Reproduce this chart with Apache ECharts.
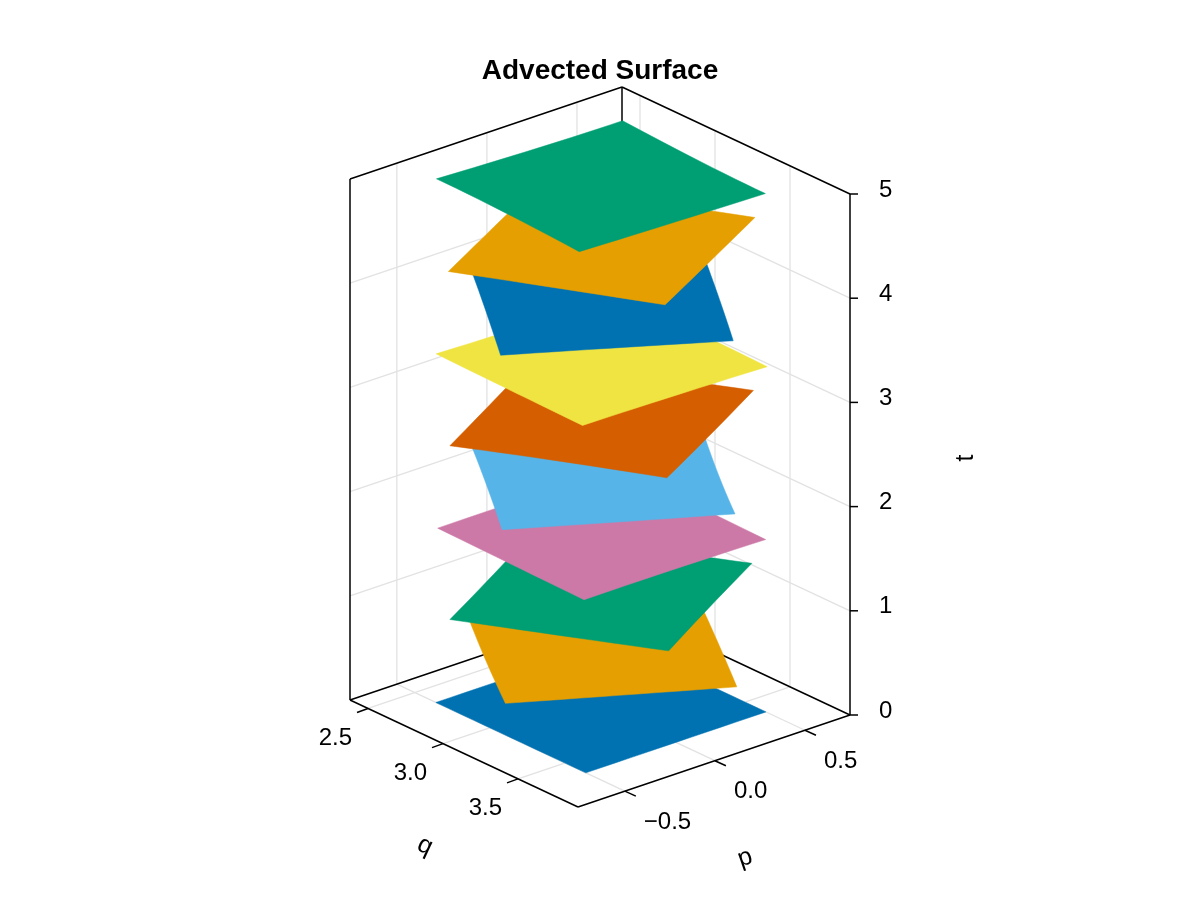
<!DOCTYPE html>
<html><head><meta charset="utf-8">
<script src="https://cdn.jsdelivr.net/npm/echarts@6/dist/echarts.min.js"></script>
<style>html,body{margin:0;padding:0;background:#fff}#c{width:1200px;height:900px}</style>
</head><body><div id="c"></div>
<script>
// Axis ranges and ticks
const qRange = [2.38, 3.90];
const pRange = [-0.76, 0.75];
const tRange = [0, 5];
const qTicks = [2.5, 3.0, 3.5];
const pTicks = [-0.5, 0.0, 0.5];
const tTicks = [0, 1, 2, 3, 4, 5];
const qTickLabels = ['2.5', '3.0', '3.5'];
const pTickLabels = ['\u22120.5', '0.0', '0.5'];
const tTickLabels = ['0', '1', '2', '3', '4', '5'];
// Surface times
const tValues = [0, 0.556, 1.111, 1.667, 2.222, 2.778, 3.333, 3.889, 4.444, 5];
const surfaceColors = ['#0072B2', '#E69F00', '#009E73', '#CC79A7', '#56B4E9', '#D55E00', '#F0E442', '#0072B2', '#E69F00', '#009E73'];
// Boundary of each advected patch: corner, edge-mid, corner, ... (q, p)
const surface0 = [[2.64,-0.50],[3.14,-0.50],[3.64,-0.50],[3.64,0.00],[3.64,0.50],[3.14,0.50],[2.64,0.50],[2.64,0.00]];
const surface1 = [[2.46,-0.18],[2.88,-0.43],[3.32,-0.68],[3.57,-0.26],[3.83,0.18],[3.40,0.43],[2.96,0.68],[2.71,0.26]];
const surface2 = [[2.46,0.19],[2.70,-0.23],[2.95,-0.68],[3.38,-0.44],[3.82,-0.19],[3.58,0.23],[3.33,0.68],[2.91,0.44]];
const surface3 = [[2.65,0.51],[2.64,0.03],[2.64,-0.49],[3.12,-0.50],[3.64,-0.51],[3.64,-0.03],[3.65,0.49],[3.17,0.50]];
const surface4 = [[2.97,0.69],[2.73,0.28],[2.46,-0.17],[2.86,-0.41],[3.31,-0.69],[3.56,-0.28],[3.83,0.17],[3.42,0.41]];
const surface5 = [[3.34,0.68],[2.93,0.45],[2.46,0.20],[2.69,-0.21],[2.95,-0.68],[3.35,-0.45],[3.82,-0.20],[3.60,0.21]];
const surface6 = [[3.66,0.49],[3.20,0.50],[2.66,0.51],[2.65,0.05],[2.63,-0.49],[3.09,-0.50],[3.63,-0.51],[3.64,-0.05]];
const surface7 = [[3.83,0.16],[3.45,0.40],[2.98,0.69],[2.74,0.30],[2.45,-0.16],[2.84,-0.40],[3.30,-0.69],[3.54,-0.30]];
const surface8 = [[3.82,-0.21],[3.61,0.19],[3.35,0.68],[2.96,0.47],[2.47,0.21],[2.68,-0.19],[2.94,-0.68],[3.33,-0.47]];
const surface9 = [[3.62,-0.52],[3.64,-0.08],[3.66,0.48],[3.22,0.49],[2.66,0.52],[2.65,0.08],[2.62,-0.48],[3.06,-0.49]];
const surfaces = [surface0,surface1,surface2,surface3,surface4,surface5,surface6,surface7,surface8,surface9];

// Projection of (q,p,t) into the page plane
function proj(q, p, t) {
  const a = (q - qRange[0]) / (qRange[1] - qRange[0]);
  const b = (p - pRange[0]) / (pRange[1] - pRange[0]);
  const c = (t - tRange[0]) / (tRange[1] - tRange[0]);
  return [350 + 228 * a + 272 * b, 700 + 107 * a - 92 * b - 521 * c];
}
const FONT = '"Liberation Sans", Arial, sans-serif';

function frameItem(params, api) {
  const ch = [];
  const P = (q, p, t) => api.coord(proj(q, p, t));
  const line = (A, B, color, w) => ch.push({type: 'line', shape: {x1: A[0], y1: A[1], x2: B[0], y2: B[1]}, style: {stroke: color, lineWidth: w}});
  const [q0, q1] = qRange, [p0, p1] = pRange, [t0, t1] = tRange;
  const G = '#e2e2e2';
  tTicks.forEach(t => { if (t > t0 && t < t1) { line(P(q0,p0,t), P(q0,p1,t), G, 1.3); line(P(q0,p1,t), P(q1,p1,t), G, 1.3); } });
  pTicks.forEach(p => { line(P(q0,p,t0), P(q0,p,t1), G, 1.3); line(P(q0,p,t0), P(q1,p,t0), G, 1.3); });
  qTicks.forEach(q => { line(P(q,p1,t0), P(q,p1,t1), G, 1.3); line(P(q,p0,t0), P(q,p1,t0), G, 1.3); });
  const K = '#000';
  line(P(q0,p0,t0), P(q0,p1,t0), K, 1.5);
  line(P(q0,p1,t0), P(q1,p1,t0), K, 1.5);
  line(P(q0,p1,t0), P(q0,p1,t1), K, 1.5);
  return {type: 'group', children: ch};
}
function frontItem(params, api) {
  const ch = [];
  const P = (q, p, t) => api.coord(proj(q, p, t));
  const line = (A, B, color, w) => ch.push({type: 'line', shape: {x1: A[0], y1: A[1], x2: B[0], y2: B[1]}, style: {stroke: color, lineWidth: w}});
  const text = (s, pt, align, valign, size, rot) => ch.push({type: 'text', x: pt[0], y: pt[1], rotation: rot || 0,
    style: {text: s, x: 0, y: 0, align: align, verticalAlign: valign, textAlign: align, textVerticalAlign: valign, fill: '#000', font: size + 'px ' + FONT}});
  const [q0, q1] = qRange, [p0, p1] = pRange, [t0, t1] = tRange;
  const K = '#000';
  line(P(q0,p0,t0), P(q0,p0,t1), K, 1.5);
  line(P(q0,p0,t1), P(q0,p1,t1), K, 1.5);
  line(P(q0,p1,t1), P(q1,p1,t1), K, 1.5);
  line(P(q1,p1,t0), P(q1,p1,t1), K, 1.5);
  line(P(q0,p0,t0), P(q1,p0,t0), K, 1.5);
  line(P(q1,p0,t0), P(q1,p1,t0), K, 1.5);
  qTicks.forEach((q, i) => { const A = P(q,p0,t0); line(A, [A[0]-11, A[1]+4], K, 1.5); text(qTickLabels[i], [A[0]-16, A[1]+30], 'right', 'middle', 24); });
  pTicks.forEach((p, i) => { const A = P(q1,p,t0); line(A, [A[0]+11, A[1]+5], K, 1.5); text(pTickLabels[i], [A[0]+19, A[1]+31], 'left', 'middle', 24); });
  tTicks.forEach((t, i) => { const A = P(q1,p1,t); line(A, [A[0]+8, A[1]], K, 1.5); text(tTickLabels[i], [A[0]+29, A[1]-4], 'left', 'middle', 24); });
  text('q', [425, 846], 'center', 'middle', 25, -0.44);
  text('p', [745, 858], 'center', 'middle', 25, 0.33);
  text('t', [966, 458], 'center', 'middle', 25, Math.PI / 2);
  return {type: 'group', children: ch};
}
function surfaceItem(params, api) {
  const k = api.value(0);
  const pts = surfaces[k], t = tValues[k];
  const out = [];
  for (let e = 0; e < 4; e++) {
    const A = pts[2*e], M = pts[2*e+1], B = pts[(2*e+2) % 8];
    const C = [2*M[0] - (A[0]+B[0])/2, 2*M[1] - (A[1]+B[1])/2];
    for (let j = 0; j < 12; j++) {
      const s = j / 12;
      const q = (1-s)*(1-s)*A[0] + 2*s*(1-s)*C[0] + s*s*B[0];
      const p = (1-s)*(1-s)*A[1] + 2*s*(1-s)*C[1] + s*s*B[1];
      out.push(api.coord(proj(q, p, t)));
    }
  }
  return {type: 'polygon', shape: {points: out}, style: {fill: surfaceColors[k], stroke: surfaceColors[k], lineWidth: 0.5}};
}
const chart = echarts.init(document.getElementById('c'));
chart.setOption({
  animation: false,
  backgroundColor: '#fff',
  title: {text: 'Advected Surface', left: 'center', top: 52, textStyle: {fontSize: 28, fontWeight: 'bold', fontFamily: FONT, color: '#000'}},
  grid: {left: 0, right: 0, top: 0, bottom: 0},
  xAxis: {type: 'value', min: 0, max: 1200, show: false},
  yAxis: {type: 'value', min: 0, max: 900, inverse: true, show: false},
  series: [
    {type: 'custom', renderItem: frameItem, data: [[0]], z: 1, silent: true},
    {type: 'custom', renderItem: surfaceItem, data: tValues.map((t, i) => [i]), z: 2, silent: true},
    {type: 'custom', renderItem: frontItem, data: [[0]], z: 3, silent: true}
  ]
});
</script></body></html>
